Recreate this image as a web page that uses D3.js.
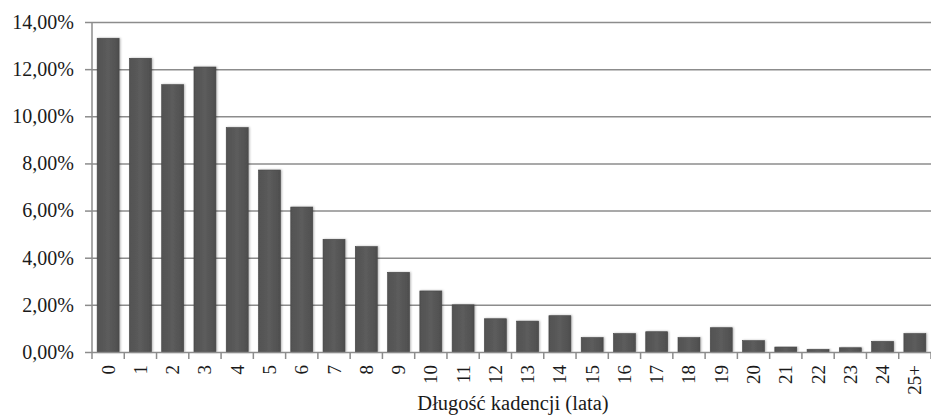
<!DOCTYPE html>
<html><head><meta charset="utf-8">
<script src="https://cdn.jsdelivr.net/npm/d3@7"></script>
<style>body{margin:0;background:#fff}svg{display:block}</style>
</head><body>
<svg id="c" width="931" height="418"></svg>
<script>
const categories = ["0","1","2","3","4","5","6","7","8","9","10","11","12","13","14","15","16","17","18","19","20","21","22","23","24","25+"];
const values = [13.31,12.46,11.34,12.09,9.52,7.72,6.15,4.78,4.47,3.38,2.59,2.0,1.41,1.31,1.54,0.61,0.78,0.86,0.61,1.03,0.48,0.21,0.11,0.18,0.45,0.78];
const yTicks = [0,2,4,6,8,10,12,14];
const xTitle = "Długość kadencji (lata)";

const svg = d3.select("#c");
const m = {l:92, r:0, t:22, b:66};
const W = 931, H = 418;
const x = d3.scaleBand().domain(categories).range([m.l, W - m.r]).paddingInner(0.32).paddingOuter(0.16);
const y = d3.scaleLinear().domain([0,14]).range([H - m.b, m.t]);
const font = "'Liberation Serif','Times New Roman',serif";

const defs = svg.append("defs");
const f = defs.append("filter").attr("id","sh").attr("x","-20%").attr("y","-20%").attr("width","140%").attr("height","140%");
f.append("feDropShadow").attr("dx",1).attr("dy",0).attr("stdDeviation",1.2).attr("flood-color","#000").attr("flood-opacity",0.3);
const g = defs.append("linearGradient").attr("id","bg").attr("x1",0).attr("x2",1);
g.append("stop").attr("offset","0%").attr("stop-color","#525252");
g.append("stop").attr("offset","50%").attr("stop-color","#5c5c5c");
g.append("stop").attr("offset","100%").attr("stop-color","#4e4e4e");

// gridlines
svg.append("g").selectAll("line").data(yTicks.filter(d=>d>0)).join("line")
  .attr("x1", m.l).attr("x2", W).attr("y1", d=>y(d)+0.5).attr("y2", d=>y(d)+0.5)
  .attr("stroke","#8c8c8c").attr("stroke-width",1.5);

// bars
svg.append("g").selectAll("rect").data(values).join("rect")
  .attr("x",(d,i)=>x(categories[i])).attr("width",x.bandwidth())
  .attr("y",d=>y(d)).attr("height",d=>y(0)-y(d))
  .attr("fill","url(#bg)").attr("stroke","#444").attr("stroke-width",0.6)
  .attr("filter","url(#sh)");

// y axis
const ya = svg.append("g").attr("transform",`translate(${m.l},0)`)
  .call(d3.axisLeft(y).tickValues(yTicks).tickSize(7).tickPadding(11)
    .tickFormat(d=>d3.format(".2f")(d).replace(".",",")+"%"));
ya.select(".domain").attr("stroke","#8c8c8c").attr("stroke-width",1.5).attr("d",`M0,${m.t}V${y(0)}`);
ya.selectAll(".tick line").attr("stroke","#8c8c8c").attr("stroke-width",1.5);
ya.selectAll("text").attr("font-family",font).attr("font-size",20).attr("fill","#1a1a1a");

// x axis
const xa = svg.append("g").attr("transform",`translate(0,${y(0)})`);
xa.append("line").attr("x1",m.l).attr("x2",W).attr("y1",0.5).attr("y2",0.5).attr("stroke","#8c8c8c").attr("stroke-width",1.5);
const step = x.step();
const bounds = d3.range(categories.length+1).map(i=> m.l + i*step);
xa.selectAll("line.t").data(bounds).join("line").attr("class","t")
  .attr("x1",d=>d).attr("x2",d=>d).attr("y1",0).attr("y2",7).attr("stroke","#8c8c8c").attr("stroke-width",1.5);
xa.selectAll("text").data(categories).join("text")
  .attr("transform",d=>`translate(${x(d)+x.bandwidth()/2+6.5},13) rotate(-90)`)
  .attr("text-anchor","end").attr("font-family",font).attr("font-size",19).attr("fill","#1a1a1a")
  .text(d=>d);

svg.append("text").attr("x",513).attr("y",410).attr("text-anchor","middle")
  .attr("font-family",font).attr("font-size",20.5).attr("fill","#1a1a1a").text(xTitle);
</script>
</body></html>
